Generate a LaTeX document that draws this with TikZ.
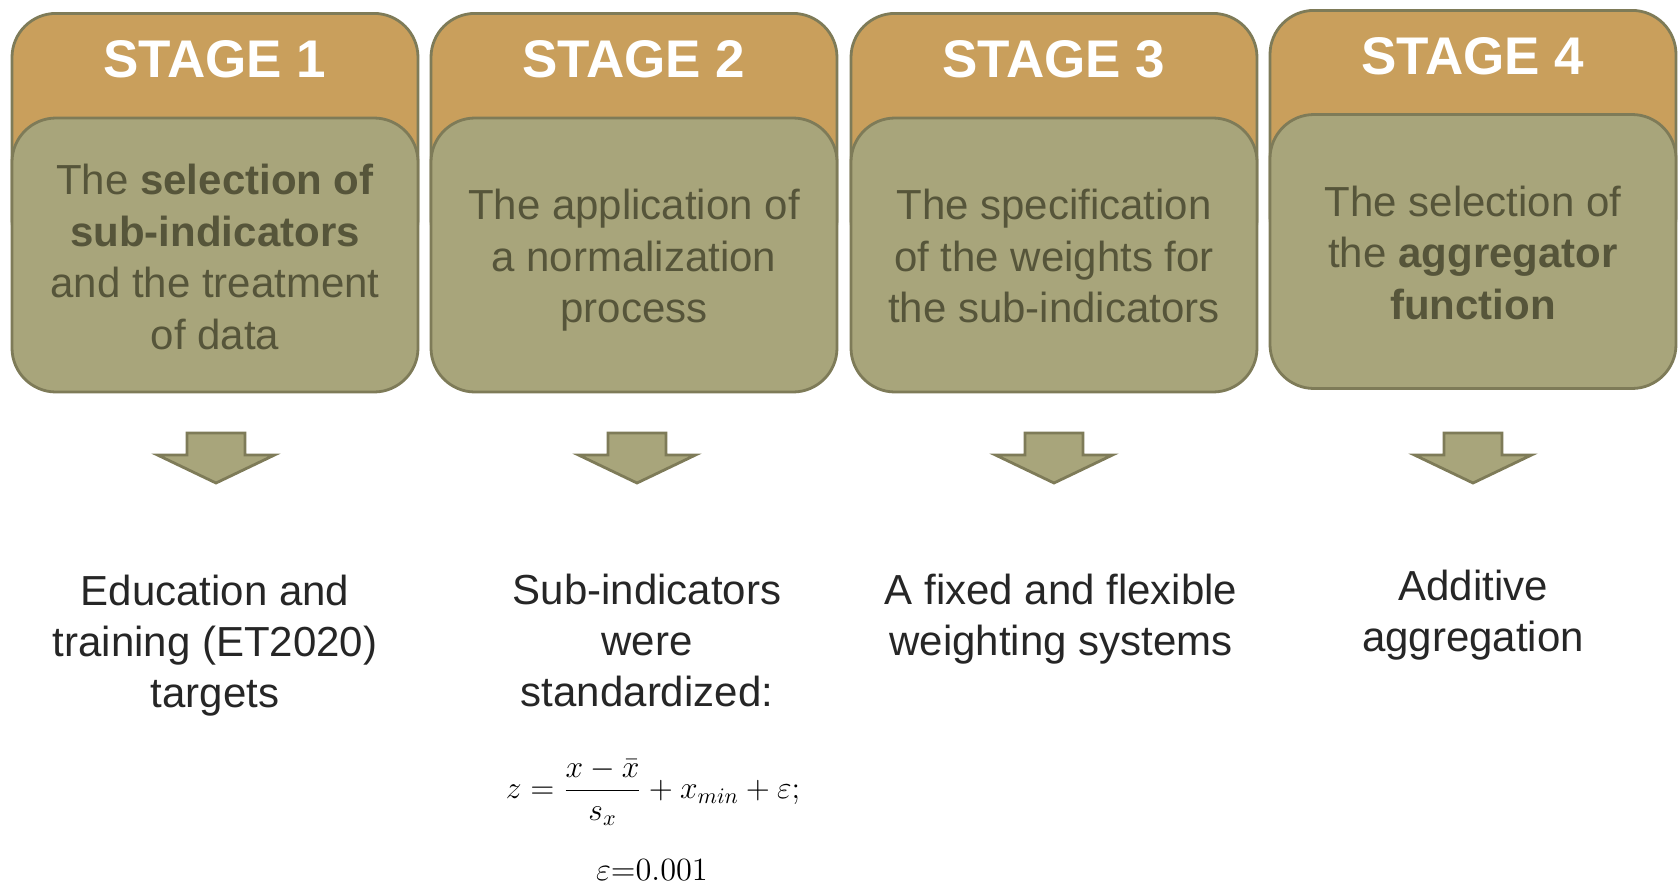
\RequirePackage{fix-cm}
\documentclass[tikz,border=0pt]{standalone}
\usepackage[no-math]{fontspec}
\setmainfont{Liberation Sans}
\usepackage{mathtools}
\usepackage{tikz}
\usepackage{xcolor}

\definecolor{stageorange}{HTML}{C99F5C}
\definecolor{stagegreen}{HTML}{A8A57B}
\definecolor{stageline}{HTML}{7E7B58}
\definecolor{stagetext}{HTML}{56553A}
\definecolor{resultgray}{HTML}{262626}

\tikzset{
    stagehead/.style={draw=stageline, fill=stageorange, line width=1.4pt, rounded corners=22pt,
        minimum width=203pt, minimum height=125pt, anchor=north},
    stagebody/.style={draw=stageline, fill=stagegreen, line width=1.4pt, rounded corners=22pt,
        minimum width=203pt, minimum height=137pt, align=center, text=stagetext,
        font=\fontsize{21}{25.75}\selectfont},
    stagetitle/.style={text=white, font=\fontsize{26.5}{30}\selectfont\bfseries},
    resulttext/.style={align=center, text=resultgray, font=\fontsize{21}{25.5}\selectfont},
    downarrow/.style={draw=stageline, fill=stagegreen, line width=1.4pt, line join=miter},
}

\begin{document}
\begin{tikzpicture}[x=0.5pt, y=-0.5pt]
        \useasboundingbox (0,0) rectangle (1678,885);

        % stage headers
        \node (h1) at ( 215, 12) [stagehead] {};
        \node (h2) at ( 634, 12) [stagehead] {};
        \node (h3) at (1054, 12) [stagehead] {};
        \node (h4) at (1473,  9) [stagehead] {};
        \node (t1) at ( 215, 59) [stagetitle] {STAGE 1};
        \node (t2) at ( 634, 59) [stagetitle] {STAGE 2};
        \node (t3) at (1054, 59) [stagetitle] {STAGE 3};
        \node (t4) at (1473, 56) [stagetitle] {STAGE 4};

        % stage bodies
        \node (b1) at ( 215, 255) [stagebody] {};
        \node (b2) at ( 634, 255) [stagebody] {};
        \node (b3) at (1054, 255) [stagebody] {};
        \node (b4) at (1473, 251.5) [stagebody] {};
        \node (s1) at ( 215, 257) [stagebody, draw=none, fill=none] {The \textbf{selection of}\\ \textbf{sub-indicators}\\ and the treatment\\ of data};
        \node (s2) at ( 634, 260.5) [stagebody, draw=none, fill=none] {The application of\\ a normalization\\ process};
        \node (s3) at (1054, 256) [stagebody, draw=none, fill=none] {The specification\\ of the weights for\\ the sub-indicators};
        \node (s4) at (1473, 252.5) [stagebody, draw=none, fill=none] {The selection of\\ the \textbf{aggregator}\\ \textbf{function}};

        % block arrows
        \coordinate (a1) at ( 216, 433);
        \coordinate (a2) at ( 637, 433);
        \coordinate (a3) at (1054, 433);
        \coordinate (a4) at (1473, 433);
        \draw[downarrow] (a1) ++(-29,0) -- ++(58,0) -- ++(0,22) -- ++(29.5,0) -- ++(-58.5,28) -- ++(-58.5,-28) -- ++(29.5,0) -- cycle;
        \draw[downarrow] (a2) ++(-29,0) -- ++(58,0) -- ++(0,22) -- ++(29.5,0) -- ++(-58.5,28) -- ++(-58.5,-28) -- ++(29.5,0) -- cycle;
        \draw[downarrow] (a3) ++(-29,0) -- ++(58,0) -- ++(0,22) -- ++(29.5,0) -- ++(-58.5,28) -- ++(-58.5,-28) -- ++(29.5,0) -- cycle;
        \draw[downarrow] (a4) ++(-29,0) -- ++(58,0) -- ++(0,22) -- ++(29.5,0) -- ++(-58.5,28) -- ++(-58.5,-28) -- ++(29.5,0) -- cycle;

        % results
        \node (r1) at ( 215, 645.5) [resulttext] {Education and\\ training (ET2020)\\ targets};
        \node (r2) at ( 647, 640) [resulttext] {Sub-indicators\\ were\\ standardized:};
        \node (r3) at (1061, 619) [resulttext] {A fixed and flexible\\ weighting systems};
        \node (r4) at (1473, 615.5) [resulttext] {Additive\\ aggregation};
        \node (f2) at ( 653, 792) [font=\fontsize{15.8}{19}\selectfont] {$z=\dfrac{x-\bar{x}}{s_x}+x_{min}+\varepsilon;$};
        \node (e2) at ( 652, 870) [inner sep=0pt, font=\fontsize{16.2}{19}\selectfont] {$\varepsilon{=}0.001$};
    \end{tikzpicture}
\end{document}
